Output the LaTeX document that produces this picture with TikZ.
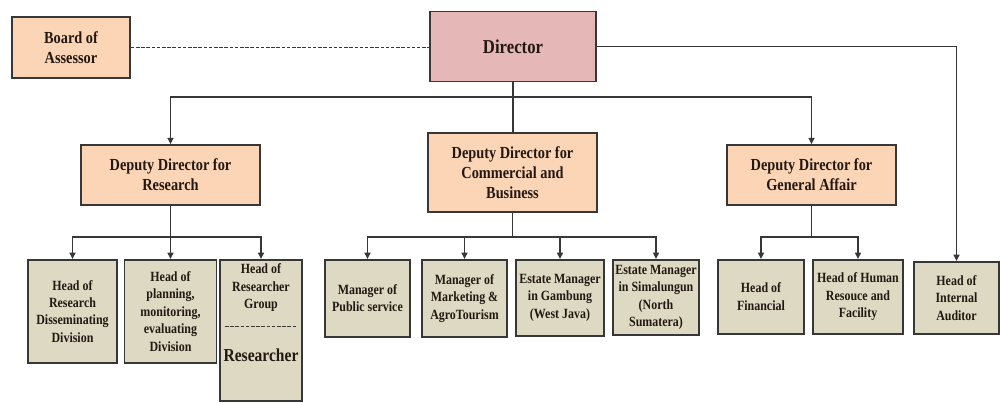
\documentclass[tikz,border=0pt]{standalone}
\usepackage{fontspec}
\setmainfont{Liberation Serif}[FakeStretch=0.85]
\usepackage{tikz}
\usetikzlibrary{positioning,arrows.meta,shadows}
\definecolor{OrgPeach}{RGB}{251,213,181}
\definecolor{OrgRose}{RGB}{229,184,183}
\definecolor{OrgStone}{RGB}{221,217,195}
\definecolor{OrgLine}{RGB}{55,55,55}
\definecolor{OrgText}{RGB}{36,24,18}
\tikzset{
    orgbox/.style={rectangle, draw=OrgLine, line width=1.1pt, text=OrgText, align=center, inner sep=1pt,
        drop shadow={shadow xshift=0.6pt, shadow yshift=-0.6pt, opacity=0.5}},
    link/.style={draw=OrgLine, line width=1.1pt},
    arrow/.style={link, -{Triangle[length=4.5pt, width=4.2pt]}}
}

\begin{document}
\begin{tikzpicture}[
        x=0.025cm, y=-0.025cm,
        % Top level boxes: peach fill
        deputybox/.style={orgbox, fill=OrgPeach, font=\bfseries\fontsize{12}{14.2}\selectfont},
        % Units in the bottom row: stone fill, hung from their top edge
        unitbox/.style={orgbox, fill=OrgStone, anchor=north, font=\bfseries\fontsize{10}{12.4}\selectfont},
        sepline/.style={draw=OrgLine, line width=0.7pt, dash pattern=on 2.5pt off 1.2pt}
    ]
        \useasboundingbox (0,0) rectangle (1001,402);

        % --- TOP LEVEL ---
        \node[deputybox, minimum width=2.95cm, minimum height=1.525cm] (board) at (71,47.5) {Board of\\Assessor};
        \node[orgbox, fill=OrgRose, font=\bfseries\fontsize{14}{16}\selectfont,
            minimum width=4.15cm, minimum height=1.75cm] (director) at (513,46.5) {Director};

        % --- DEPUTIES ---
        \node[deputybox, minimum width=4.475cm, minimum height=1.5cm] (dres) at (170.5,175) {Deputy Director for\\Research};
        \node[deputybox, minimum width=4.225cm, minimum height=1.975cm] (dcom) at (512.5,172.5) {Deputy Director for\\Commercial and\\Business};
        \node[deputybox, minimum width=4.225cm, minimum height=1.5cm] (dgen) at (811.5,175) {Deputy Director for\\General Affair};

        % --- RESEARCH UNITS ---
        \node[unitbox, minimum width=2.225cm, minimum height=2.575cm] (hdis) at (72.5,259) {Head of\\Research\\Disseminating\\Division};
        \node[unitbox, minimum width=2.3cm, minimum height=2.575cm] (hplan) at (170.5,259) {Head of\\planning,\\monitoring,\\evaluating\\Division};
        \node[unitbox, minimum width=2.05cm, minimum height=3.525cm] (hgrp) at (261,259) {};
        \node[font=\bfseries\fontsize{10}{12.4}\selectfont, text=OrgText, align=center, inner sep=0pt,
            below=0.12cm of hgrp.north] (hgrptitle) {Head of\\Researcher\\Group};
        \coordinate (hgrpsep) at (261,326);
        \draw[sepline] ([xshift=-0.9cm]hgrpsep) -- ([xshift=0.9cm]hgrpsep);
        \node[font=\bfseries\fontsize{13}{15}\selectfont, text=OrgText] (researcher) at (261,355) {Researcher};

        % --- COMMERCIAL UNITS ---
        \node[unitbox, minimum width=2.125cm, minimum height=1.925cm] (mpub) at (367.5,259) {Manager of\\Public service};
        \node[unitbox, minimum width=2.125cm, minimum height=1.925cm] (mmkt) at (464.5,259) {Manager of\\Marketing \&\\AgroTourism};
        \node[unitbox, minimum width=2.2cm, minimum height=1.9cm] (egam) at (560,259) {Estate Manager\\in Gambung\\(West Java)};
        \node[unitbox, minimum width=2.15cm, minimum height=1.875cm] (esim) at (656,259) {Estate Manager\\in Simalungun\\(North\\Sumatera)};

        % --- GENERAL AFFAIR UNITS ---
        \node[unitbox, minimum width=2.15cm, minimum height=1.85cm] (hfin) at (761,259) {Head of\\Financial};
        \node[unitbox, minimum width=2.25cm, minimum height=1.85cm] (hhum) at (858,259) {Head of Human\\Resouce and\\Facility};
        \node[unitbox, minimum width=2.125cm, minimum height=1.8cm] (haud) at (956.5,261) {Head of\\Internal\\Auditor};

        % --- CONNECTORS ---
        \draw[sepline] (board.east) -- (board.east -| director.west);
        \draw[link] (director.south) -- (director.south |- dcom.north);
        \draw[arrow] (director.south |- 0,97) -| (dres.north);
        \draw[arrow] (director.south |- 0,97) -| (dgen.north);
        \draw[arrow] (director.east) -| (haud.north);

        \foreach \u in {hdis,hplan,hgrp}
            \draw[arrow] (dres.south) -- (dres.south |- 0,237) -| (\u.north);
        \foreach \u in {mpub,mmkt,egam,esim}
            \draw[arrow] (dcom.south) -- (dcom.south |- 0,237) -| (\u.north);
        \foreach \u in {hfin,hhum}
            \draw[arrow] (dgen.south) -- (dgen.south |- 0,237) -| (\u.north);

    \end{tikzpicture}
\end{document}
